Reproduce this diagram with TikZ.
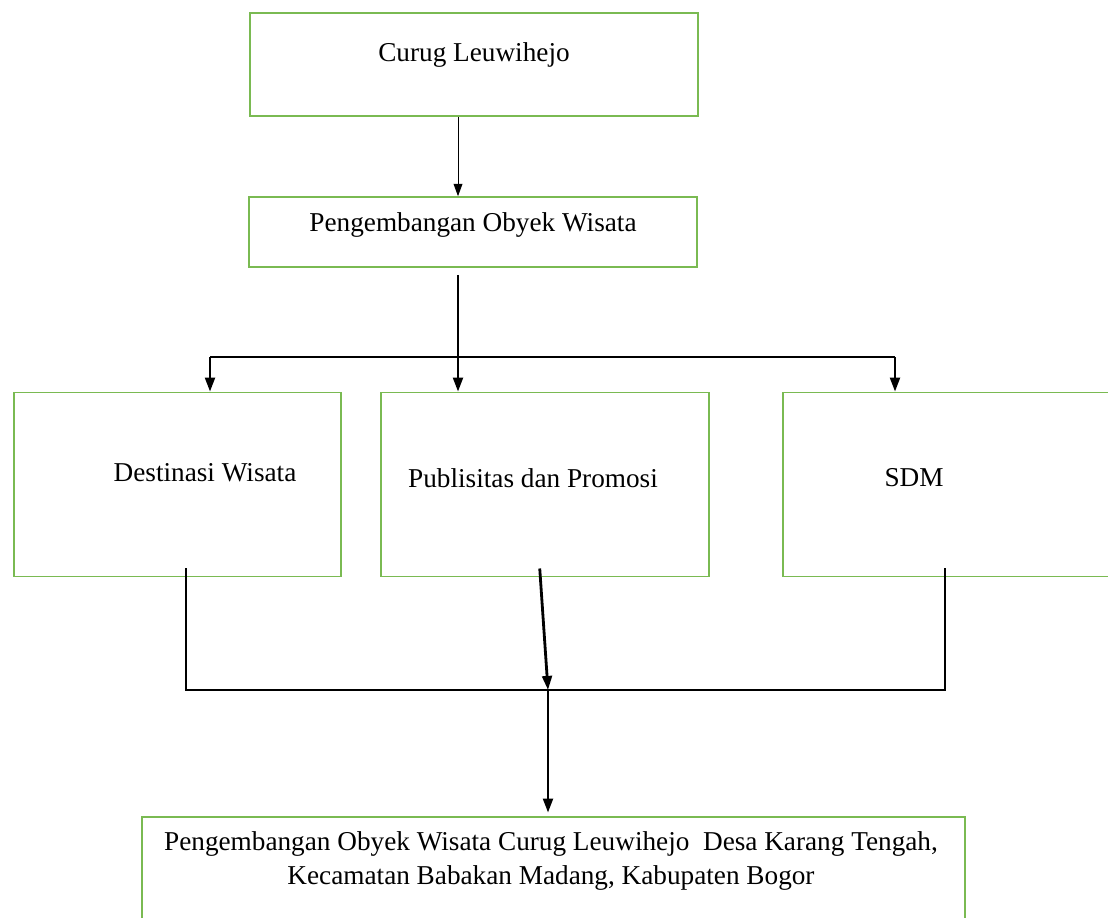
\documentclass[tikz,border=0pt]{standalone}
\usepackage{fontspec}
\setmainfont{Liberation Serif}
\usepackage{tikz}
\usetikzlibrary{arrows.meta}

\definecolor{boxgreen}{RGB}{122,186,82}

\tikzset{
  box/.style={draw=boxgreen, line width=0.9pt, inner sep=0pt},
  txt/.style={font=\fontsize{15.5}{19}\selectfont, inner sep=0pt, align=center},
  thinarrow/.style={line width=0.55pt, -{Triangle[length=7pt,width=5pt]}},
  thickline/.style={line width=1.6pt},
  thickarrow/.style={line width=1.6pt, -{Triangle[length=8pt,width=5.5pt]}}
}

\begin{document}
\begin{tikzpicture}[x=0.02cm, y=-0.02cm]

% Frame
\useasboundingbox (0,0) rectangle (1108,918);
\clip (0,0) rectangle (1108,918);

% Boxes
\node[box, minimum width=8.96cm, minimum height=2.06cm] (curug) at (474,64.5) {};
\node[box, minimum width=8.96cm, minimum height=1.4cm] (pengembangan) at (473,232) {};
\node[box, minimum width=6.54cm, minimum height=3.68cm] (destinasi) at (177.5,484.5) {};
\node[box, minimum width=6.56cm, minimum height=3.68cm] (publisitas) at (545,484.5) {};
\node[box, minimum width=6.8cm, minimum height=3.68cm] (sdm) at (953,484.5) {};
\node[box, minimum width=16.46cm, minimum height=3cm] (hasil) at (553.5,892) {};

% Texts
\node[txt] (curug text) at (474,55) {Curug Leuwihejo};
\node[txt] (pengembangan text) at (473,225) {Pengembangan Obyek Wisata};
\node[txt] (destinasi text) at (205,473) {Destinasi Wisata};
\node[txt] (publisitas text) at (533,478) {Publisitas dan Promosi};
\node[txt] (sdm text) at (914,478) {SDM};
\node[txt] (hasil text) at (551,861) {Pengembangan Obyek Wisata Curug Leuwihejo\ \ Desa Karang Tengah,\\Kecamatan Babakan Madang, Kabupaten Bogor};

% Junctions
\coordinate (split) at (458,357);
\coordinate (bar l) at (210,357);
\coordinate (bar r) at (895,357);
\coordinate (join l) at (186,690);
\coordinate (join r) at (945,690);
\coordinate (join) at (548,690);

% Top arrows
\draw[thinarrow] (curug.south -| split) -- (pengembangan.north -| split);
\draw[thickline] ([yshift=-4pt]pengembangan.south -| split) -- (split);
\draw[thickline] (bar l) -- (bar r);
\draw[thickarrow] (bar l) -- (destinasi.north -| bar l);
\draw[thickarrow] (split) -- (publisitas.north -| split);
\draw[thickarrow] (bar r) -- (sdm.north -| bar r);

% Bottom arrows
\draw[thickline] ([yshift=5pt]destinasi.south -| join l) -- (join l) -- (join r) -- ([yshift=5pt]sdm.south -| join r);
\draw[thickarrow] ([xshift=-3pt,yshift=5pt]publisitas.south) -- (join);
\draw[thickarrow, shorten >=2pt] (join) -- (hasil.north -| join);

\end{tikzpicture}
\end{document}
